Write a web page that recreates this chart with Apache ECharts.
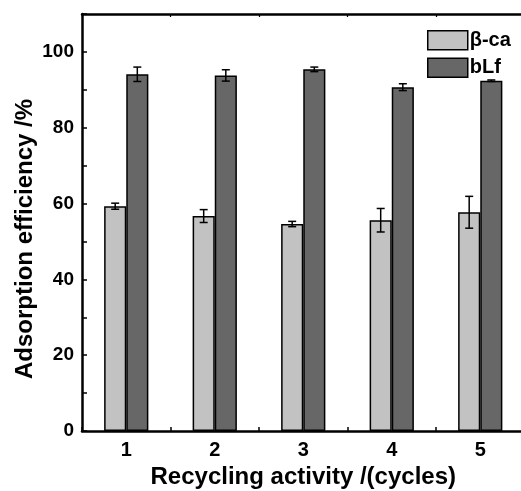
<!DOCTYPE html>
<html>
<head>
<meta charset="utf-8">
<script src="https://cdn.jsdelivr.net/npm/echarts@6/dist/echarts.min.js"></script>
<style>html,body{margin:0;padding:0;background:#fff;overflow:hidden;width:521px;height:491px;}#c{width:528px;height:491px;}</style>
</head>
<body>
<div id="c"></div>
<script>
const categories = ['1', '2', '3', '4', '5'];
const betaCa = [59.3, 56.7, 54.6, 55.6, 57.7];
const betaCaErr = [0.8, 1.7, 0.7, 3.1, 4.2];
const bLf = [94.1, 93.8, 95.4, 90.7, 92.4];
const bLfErr = [1.9, 1.5, 0.6, 0.9, 0.2];
const yTicks = [0, 20, 40, 60, 80, 100];
const xTitle = 'Recycling activity /(cycles)';
const yTitle = 'Adsorption efficiency /%';

const FONT = 'Liberation Sans, Arial, sans-serif';
const LIGHT = '#c2c2c2';
const DARK = '#676767';

function errSeries(name, vals, errs, sign) {
  return {
    type: 'custom',
    name: name + ' err',
    xAxisIndex: 0,
    yAxisIndex: 0,
    z: 5,
    silent: true,
    data: vals.map((v, i) => [i, v, errs[i]]),
    renderItem: function (params, api) {
      const i = api.value(0);
      const v = api.value(1);
      const e = api.value(2);
      const band = api.size([1, 0])[0];
      const bw = band * 0.25;
      const c = api.coord([i, v]);
      const x = c[0] + sign * bw / 2;
      const top = api.coord([i, v + e])[1];
      const bot = api.coord([i, v - e])[1];
      const cap = 4;
      const st = { stroke: '#000', lineWidth: 1.5 };
      return {
        type: 'group',
        children: [
          { type: 'line', shape: { x1: x, y1: top, x2: x, y2: bot }, style: st },
          { type: 'line', shape: { x1: x - cap, y1: top, x2: x + cap, y2: top }, style: st },
          { type: 'line', shape: { x1: x - cap, y1: bot, x2: x + cap, y2: bot }, style: st }
        ]
      };
    }
  };
}

const chart = echarts.init(document.getElementById('c'), null, { renderer: 'canvas' });
chart.setOption({
  animation: false,
  backgroundColor: '#fff',
  grid: { left: 82, top: 14, bottom: 60, right: 3.5, containLabel: false, outerBoundsMode: 'none' },
  legend: {
    left: 422, top: 25, orient: 'vertical',
    itemWidth: 40, itemHeight: 19, itemGap: 7, icon: 'rect',
    data: ['β-ca', 'bLf'],
    textStyle: { fontFamily: FONT, fontWeight: 'bold', fontSize: 20, color: '#000', padding: [0, 0, 0, -3] },
    itemStyle: { borderColor: '#000', borderWidth: 1.5 }
  },
  graphic: [
    {
      type: 'text', x: 25, y: 239, rotation: Math.PI / 2, silent: true,
      style: { text: yTitle, fontFamily: FONT, fontWeight: 'bold', fontSize: 24, fill: '#000', align: 'center', verticalAlign: 'middle' }
    }
  ],
  xAxis: [
    {
      type: 'category', data: categories, position: 'bottom',
      axisLine: { lineStyle: { color: '#000', width: 2.5 } },
      axisTick: { show: true, inside: true, length: 4, lineStyle: { color: '#000', width: 1.5 } },
      axisLabel: { fontFamily: FONT, fontWeight: 'bold', fontSize: 20, color: '#000', margin: 9 },
      name: xTitle, nameLocation: 'middle', nameGap: 30,
      nameTextStyle: { fontFamily: FONT, fontWeight: 'bold', fontSize: 24, color: '#000' },
      splitLine: { show: false }
    },
    {
      type: 'category', data: categories, position: 'top',
      axisLine: { lineStyle: { color: '#000', width: 2.5 } },
      axisTick: { show: true, inside: true, length: 3, lineStyle: { color: '#000', width: 1.2 } },
      axisLabel: { show: false }, splitLine: { show: false }
    }
  ],
  yAxis: [
    {
      type: 'value', min: 0, max: 110, interval: 10, position: 'left',
      axisLine: { show: true, lineStyle: { color: '#000', width: 2.5 } },
      axisTick: { show: true, inside: true, length: 5, lineStyle: { color: '#000', width: 1.5 } },
      axisLabel: {
        fontFamily: FONT, fontWeight: 'bold', fontSize: 19, color: '#000', margin: 8,
        formatter: function (v) { return yTicks.indexOf(v) >= 0 ? String(v) : ''; }
      },
      splitLine: { show: false }
    }
  ],
  series: [
    {
      name: 'β-ca', type: 'bar', data: betaCa, barWidth: '25%', barGap: '0%',
      itemStyle: { color: LIGHT, borderColor: '#000', borderWidth: 1.5 }
    },
    {
      name: 'bLf', type: 'bar', data: bLf, barWidth: '25%', barGap: '0%',
      itemStyle: { color: DARK, borderColor: '#000', borderWidth: 1.5 }
    },
    errSeries('β-ca', betaCa, betaCaErr, -1),
    errSeries('bLf', bLf, bLfErr, 1)
  ]
});
</script>
</body>
</html>
